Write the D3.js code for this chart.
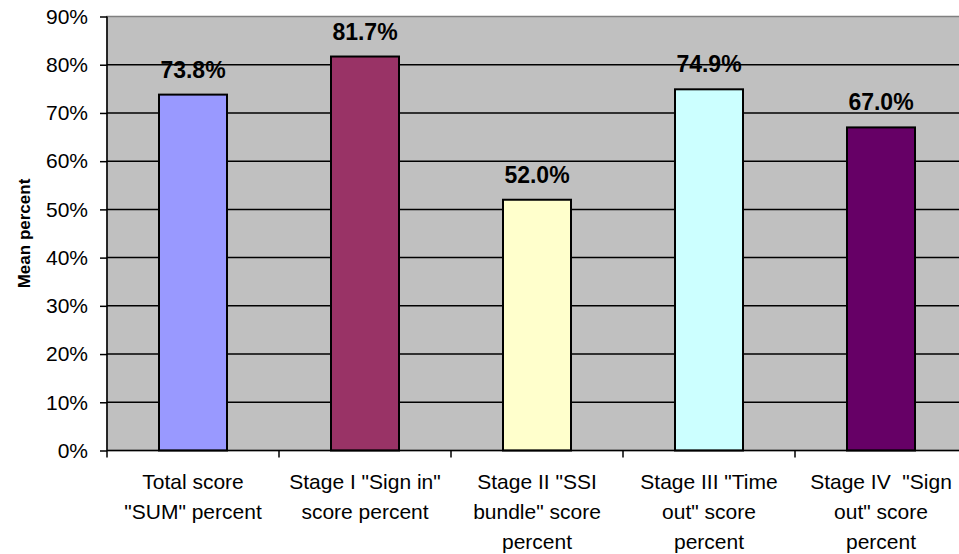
<!DOCTYPE html>
<html>
<head>
<meta charset="utf-8">
<script src="https://cdn.jsdelivr.net/npm/d3@7"></script>
<style>
  body { margin: 0; background: #fff; }
  svg { display: block; font-family: Arial, "Liberation Sans", sans-serif; }
  .cat { white-space: pre; }
</style>
</head>
<body>
<svg width="959" height="554"></svg>
<script>
const categories = [
  ['Total score', '"SUM" percent'],
  ['Stage I "Sign in"', 'score percent'],
  ['Stage II "SSI', 'bundle" score', 'percent'],
  ['Stage III "Time', 'out" score', 'percent'],
  ['Stage IV  "Sign', 'out" score', 'percent']
]
const values = [73.8, 81.7, 52.0, 74.9, 67.0]
const colors = ['#9999ff', '#993366', '#ffffcc', '#ccffff', '#660066']
const yTicks = [0, 10, 20, 30, 40, 50, 60, 70, 80, 90]

const svg = d3.select('svg')
const plotLeft = 107, plotRight = 967, plotTop = 16.5, plotBottom = 450.5
const font = 'Arial, "Liberation Sans", sans-serif'

const xc = d3.scaleBand().domain(d3.range(values.length)).range([plotLeft, plotRight])
const y = d3.scaleLinear().domain([0, 90]).range([plotBottom, plotTop])
const barW = 68

// plot background
svg.append('rect')
  .attr('x', plotLeft).attr('y', plotTop)
  .attr('width', plotRight - plotLeft).attr('height', plotBottom - plotTop)
  .attr('fill', '#c0c0c0')
  .attr('stroke', '#808080').attr('stroke-width', 1.5)

// gridlines
svg.append('g').selectAll('line')
  .data(yTicks.filter(d => d > 0 && d < 90))
  .join('line')
  .attr('x1', plotLeft).attr('x2', plotRight)
  .attr('y1', d => y(d)).attr('y2', d => y(d))
  .attr('stroke', '#000').attr('stroke-width', 1.5)

// bars
svg.append('g').selectAll('rect')
  .data(values)
  .join('rect')
  .attr('x', (d, i) => xc(i) + xc.bandwidth() / 2 - barW / 2)
  .attr('width', barW)
  .attr('y', d => y(d))
  .attr('height', d => plotBottom - y(d))
  .attr('fill', (d, i) => colors[i])
  .attr('stroke', '#000').attr('stroke-width', 2)

// value labels
svg.append('g').selectAll('text')
  .data(values)
  .join('text')
  .attr('x', (d, i) => xc(i) + xc.bandwidth() / 2)
  .attr('y', d => y(d) - 17)
  .attr('text-anchor', 'middle')
  .attr('font-size', 23).attr('font-weight', 'bold')
  .text(d => d.toFixed(1) + '%')

// y axis
const yAxis = svg.append('g')
  .attr('transform', `translate(${plotLeft},0)`)
  .call(d3.axisLeft(y).tickValues(yTicks).tickSize(7).tickPadding(12).tickFormat(d => d + '%'))
yAxis.select('.domain').attr('stroke', '#000').attr('stroke-width', 1.5).attr('d', `M0,${plotTop}V${plotBottom}`)
yAxis.selectAll('.tick line').attr('stroke', '#000').attr('stroke-width', 1.5)
yAxis.selectAll('text').attr('font-size', 21).attr('fill', '#000').attr('font-family', font)

// x axis
svg.append('line')
  .attr('x1', plotLeft).attr('x2', plotRight)
  .attr('y1', plotBottom).attr('y2', plotBottom)
  .attr('stroke', '#000').attr('stroke-width', 1.5)
svg.append('g').selectAll('line')
  .data(d3.range(values.length + 1))
  .join('line')
  .attr('x1', i => plotLeft + i * xc.step()).attr('x2', i => plotLeft + i * xc.step())
  .attr('y1', plotBottom).attr('y2', plotBottom + 7)
  .attr('stroke', '#000').attr('stroke-width', 1.5)

// category labels
const cat = svg.append('g').selectAll('text')
  .data(categories)
  .join('text')
  .attr('class', 'cat')
  .attr('text-anchor', 'middle')
  .attr('font-size', 21)
cat.each(function (lines, i) {
  d3.select(this).selectAll('tspan')
    .data(lines)
    .join('tspan')
    .attr('x', xc(i) + xc.bandwidth() / 2)
    .attr('y', (d, j) => 489 + j * 30)
    .text(d => d)
})

// y title
svg.append('text')
  .attr('transform', `translate(30,${(plotTop + plotBottom) / 2}) rotate(-90)`)
  .attr('text-anchor', 'middle')
  .attr('font-size', 17).attr('font-weight', 'bold')
  .text('Mean percent')
</script>
</body>
</html>
